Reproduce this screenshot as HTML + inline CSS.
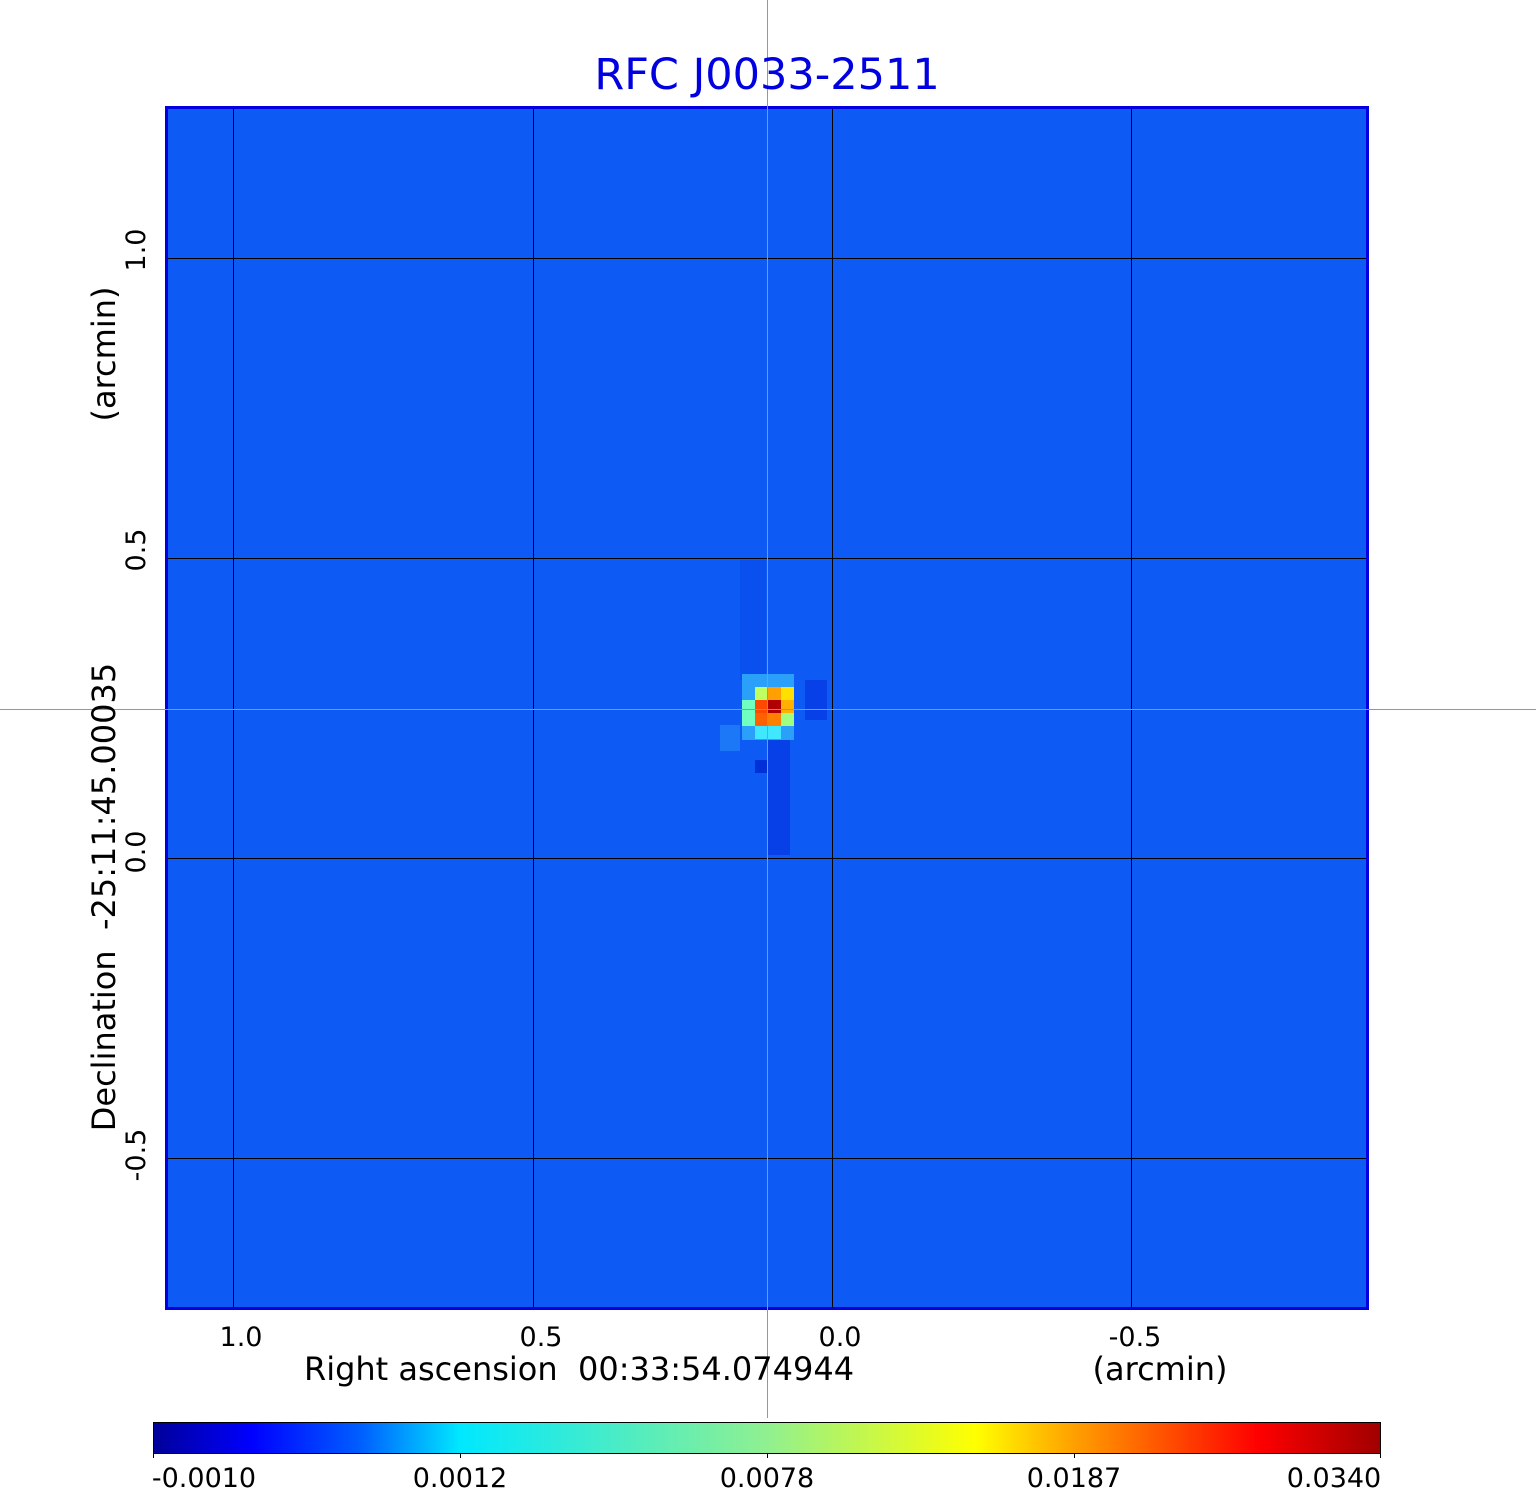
<!DOCTYPE html>
<html><head><meta charset="utf-8"><style>
body{margin:0;width:1536px;height:1511px;background:#fff;position:relative;overflow:hidden;font-family:"DejaVu Sans","Liberation Sans",sans-serif}
</style></head><body>
<svg width="1536" height="1511" style="position:absolute;left:0;top:0">
<defs>
<linearGradient id="cb" x1="0" x2="1" y1="0" y2="0">
<stop offset="0" stop-color="#00009a"/>
<stop offset="0.08" stop-color="#0000ff"/>
<stop offset="0.17" stop-color="#0060ff"/>
<stop offset="0.25" stop-color="#00e8ff"/>
<stop offset="0.5" stop-color="#90f090"/>
<stop offset="0.67" stop-color="#ffff00"/>
<stop offset="0.75" stop-color="#ffa000"/>
<stop offset="0.9" stop-color="#ff0000"/>
<stop offset="1" stop-color="#a00000"/>
</linearGradient>
</defs>
<rect x="166" y="107" width="1202" height="1202" fill="#0e5af4"/>
<rect x="740" y="560" width="26" height="120" fill="#0a50ee"/>
<rect x="768" y="725" width="22" height="130" fill="#0640e6"/>
<rect x="805" y="680" width="22" height="40" fill="#0640e6"/>
<rect x="755" y="760" width="13" height="13" fill="#0030d8"/>
<rect x="720" y="725" width="20" height="26" fill="#1c78f6"/>
<rect x="742" y="674" width="52" height="66" fill="#2aa0fa"/>
<rect x="755" y="687" width="39" height="39" fill="#40e0ff"/>
<rect x="742" y="700" width="13" height="26" fill="#70ffc0"/>
<rect x="755" y="687" width="13" height="13" fill="#c0ff60"/>
<rect x="768" y="687" width="13" height="13" fill="#ffa000"/>
<rect x="781" y="687" width="13" height="13" fill="#ffe000"/>
<rect x="755" y="700" width="13" height="13" fill="#ff4800"/>
<rect x="768" y="700" width="13" height="13" fill="#b00000"/>
<rect x="781" y="700" width="13" height="13" fill="#ffb000"/>
<rect x="755" y="713" width="13" height="13" fill="#ff6000"/>
<rect x="768" y="713" width="13" height="13" fill="#ff8000"/>
<rect x="781" y="713" width="13" height="13" fill="#a0ff80"/>
<rect x="755" y="726" width="26" height="13" fill="#40e8ff"/>
<g stroke="#000" stroke-width="1">
<line x1="233.5" y1="107" x2="233.5" y2="1309"/>
<line x1="533.5" y1="107" x2="533.5" y2="1309"/>
<line x1="832.5" y1="107" x2="832.5" y2="1309"/>
<line x1="1131.5" y1="107" x2="1131.5" y2="1309"/>
<line x1="166" y1="258.5" x2="1368" y2="258.5"/>
<line x1="166" y1="558.5" x2="1368" y2="558.5"/>
<line x1="166" y1="858.5" x2="1368" y2="858.5"/>
<line x1="166" y1="1158.5" x2="1368" y2="1158.5"/>
</g>
<rect x="166.5" y="107.5" width="1201" height="1201" fill="none" stroke="#0000e0" stroke-width="3"/>
<rect x="153.5" y="1422.5" width="1227" height="31" fill="url(#cb)" stroke="#000" stroke-width="1"/>
<g stroke="#000"><line x1="460.5" y1="1453" x2="460.5" y2="1458"/><line x1="767.5" y1="1453" x2="767.5" y2="1458"/><line x1="1074.5" y1="1453" x2="1074.5" y2="1458"/><line x1="153.5" y1="1453" x2="153.5" y2="1458"/><line x1="1380.5" y1="1453" x2="1380.5" y2="1458"/></g>
<rect x="767" y="0" width="1" height="1418" fill="#30e030"/>
<rect x="0" y="709" width="1536" height="1" fill="#30e030"/>
<g font-family="DejaVu Sans, Liberation Sans, sans-serif" font-size="27" fill="#000" text-anchor="middle">
<text x="241" y="1346">1.0</text><text x="541" y="1346">0.5</text><text x="840" y="1346">0.0</text><text x="1135" y="1346">-0.5</text>
<text x="579" y="1380" font-size="32">Right ascension&#160; 00:33:54.074944</text>
<text x="1160" y="1380" font-size="32">(arcmin)</text>
<text transform="translate(145,250) rotate(-90)">1.0</text>
<text transform="translate(145,550) rotate(-90)">0.5</text>
<text transform="translate(145,852) rotate(-90)">0.0</text>
<text transform="translate(145,1155) rotate(-90)">-0.5</text>
<text transform="translate(115,354) rotate(-90)" font-size="32">(arcmin)</text>
<text transform="translate(115,897) rotate(-90)" font-size="32">Declination&#160; -25:11:45.00035</text>
<text x="767" y="89" font-size="43" fill="#0000e0">RFC J0033-2511</text>
<text x="204" y="1487">-0.0010</text><text x="460" y="1487">0.0012</text><text x="767" y="1487">0.0078</text><text x="1074" y="1487">0.0187</text><text x="1334" y="1487">0.0340</text>
</g>
</svg>
</body></html>
